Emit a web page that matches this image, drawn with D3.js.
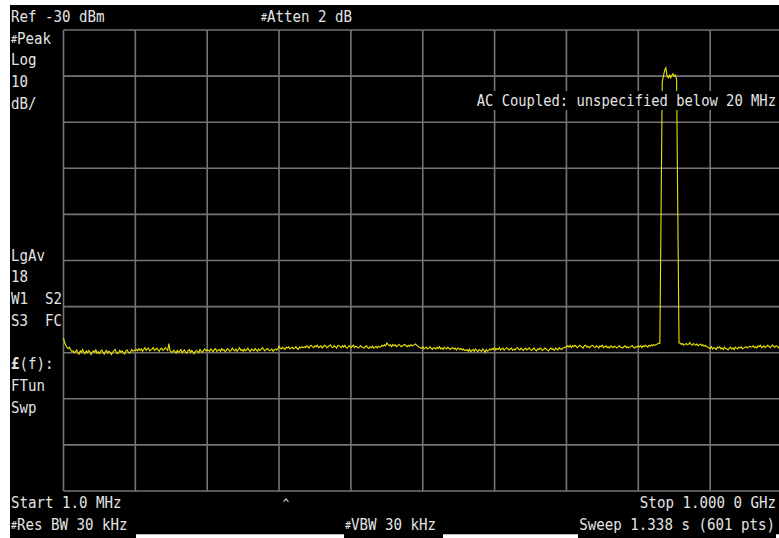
<!DOCTYPE html>
<html>
<head>
<meta charset="utf-8">
<script src="https://cdn.jsdelivr.net/npm/d3@7"></script>
<style>
  body { margin: 0; background: #fff; }
  svg { display: block; }
  text { font-family: "DejaVu Sans Mono", "Liberation Mono", monospace; fill: #e4e4e4; font-size: 15.8px; white-space: pre; }
</style>
</head>
<body>
<div id="container"><svg></svg></div>
<script>
let width = 779
let height = 538
let fontFamily = "DejaVu Sans Mono"

// instrument settings
let refLevel = -30
let dbPerDiv = 10
let nDiv = 10
let startMHz = 1.0
let stopMHz = 1000.0
let nPts = 601

// annotation texts
let topLeft = 'Ref -30 dBm'
let topMid = '#Atten 2 dB'
let sideLabels = ['#Peak', 'Log', '10', 'dB/', 'LgAv', '18', 'W1  S2', 'S3  FC', '£(f):', 'FTun', 'Swp']
let sideRows = [1, 2, 3, 4, 11, 12, 13, 14, 16, 17, 18]
let noteText = 'AC Coupled: unspecified below 20 MHz'
let startText = 'Start 1.0 MHz'
let stopText = 'Stop 1.000 0 GHz'
let rbwText = '#Res BW 30 kHz'
let vbwText = '#VBW 30 kHz'
let sweepText = 'Sweep 1.338 s (601 pts)'

// trace, dBm, 601 points
let trace = [
  -96.8, -97.9, -98.4, -98.9, -99.1, -98.8, -99.4, -99.7, -99.6, -100.0,
  -99.8, -99.4, -100.1, -100.3, -99.6, -99.9, -99.3, -100.0, -100.2, -99.6,
  -100.0, -99.5, -99.8, -100.4, -99.9, -99.6, -99.9, -99.4, -100.1, -99.8,
  -100.2, -99.7, -99.4, -100.0, -100.3, -99.8, -99.5, -100.1, -99.7, -99.9,
  -100.4, -99.9, -99.6, -99.3, -99.8, -100.2, -100.0, -99.5, -99.9, -99.6,
  -100.0, -100.3, -99.7, -99.4, -99.8, -100.1, -99.8, -99.3, -99.7, -99.5,
  -99.4,
  -99.3, -99.6, -99.1, -99.5, -99.2, -99.7, -99.3, -98.9, -99.5, -99.2,
  -99.0, -99.6, -99.4, -99.2, -98.9, -99.5, -99.3, -99.0, -99.4, -99.7,
  -99.2, -99.0, -99.5, -99.3, -98.9, -99.2, -99.5, -98.0, -99.6, -99.8,
  -99.9, -99.5, -99.7, -100.1, -99.5, -99.9, -99.6, -99.3, -100.0, -99.7,
  -99.4, -99.9, -100.1, -99.6, -99.3, -99.9, -99.5, -99.8, -100.2, -99.8,
  -99.5, -99.7, -100.0, -99.3, -99.7, -99.9, -99.5, -99.2, -99.6, -99.4,
  -99.5, -99.7, -99.2, -99.5, -99.8, -99.3, -99.1, -99.7, -99.5, -99.3,
  -99.7, -99.1, -99.5, -99.3, -99.8, -99.5, -99.1, -99.4, -99.7, -99.5,
  -99.0, -99.4, -99.6, -99.2, -99.7, -99.3, -98.9, -99.5, -99.3, -99.7,
  -99.2, -99.6, -99.4, -99.0, -99.5, -99.7, -99.2, -99.4, -99.6, -99.1,
  -99.4, -99.7, -99.2, -99.5, -99.3, -98.9, -99.2, -99.6, -99.4, -99.1,
  -99.3, -99.6, -99.4, -99.2, -99.7, -99.4, -99.2, -99.4,
  -99.2, -98.6,
  -99.0, -99.2, -98.8, -99.1, -99.3, -98.8, -99.0, -98.7, -99.2, -99.0,
  -98.8, -99.2, -99.0, -98.7, -99.1, -99.3, -98.8, -99.0, -98.7, -98.9,
  -98.7, -98.9, -98.5, -98.7, -99.0, -98.5, -98.4, -98.8, -98.9, -98.5,
  -98.7, -98.4, -98.9, -98.7, -98.5, -99.0, -98.7, -98.4, -98.6, -98.9,
  -98.7, -98.5, -98.3, -98.8, -98.9, -98.5, -98.7, -99.0, -98.5, -98.4,
  -98.7, -98.9, -98.5, -98.8, -98.4, -98.9, -99.0, -98.7, -98.5, -98.9,
  -98.7, -98.4, -98.9, -98.6, -98.7, -99.0, -98.8, -98.5, -98.7, -98.9,
  -99.0, -98.7, -98.5, -98.9, -99.1, -98.7, -98.9, -98.6, -99.0, -98.8,
  -98.6, -99.0, -98.6, -98.8, -98.7, -98.4,
  -98.6, -98.3, -98.5, -97.9,
  -98.2, -98.5, -98.3, -98.7, -98.2, -98.5, -98.3, -98.7, -98.5, -98.2,
  -98.4, -98.7, -98.5, -98.3, -98.2, -98.5, -98.7, -98.4, -98.6, -98.3,
  -98.5, -98.4, -98.3, -98.1, -98.4, -98.6, -98.8,
  -98.9, -99.1, -98.7, -99.2, -99.0, -98.8, -99.2, -99.0, -98.7, -99.1,
  -99.3, -98.9, -99.0, -99.2, -98.8, -99.1, -98.7, -99.2, -99.0, -99.3,
  -98.8, -99.0, -99.2, -98.8, -99.1, -99.3, -99.0, -98.9, -99.2, -99.0,
  -99.4, -99.1, -99.0, -99.3, -99.1, -99.4, -99.2, -99.5,
  -99.5, -99.3, -99.7, -99.2, -99.8, -99.5, -99.3, -99.7, -99.2, -99.5,
  -99.8, -99.3, -99.5, -99.7, -99.2, -99.5, -99.9, -99.3, -99.7, -99.5,
  -99.2, -99.4,
  -99.1, -99.3, -98.9, -99.4, -99.1, -99.3, -98.9, -99.4, -99.2, -99.0,
  -99.5, -99.2, -98.9, -99.1, -99.4, -99.2, -99.0, -99.5, -99.2, -99.4,
  -99.0, -98.9, -99.2, -99.4, -99.0, -99.3, -99.5, -99.2, -99.0, -99.4,
  -99.2, -98.9, -99.4, -99.5, -99.2, -99.0, -99.4, -99.6, -99.2, -99.3,
  -99.0, -99.2, -99.5, -99.3, -99.0, -99.2, -99.4, -99.6, -99.2, -99.0,
  -99.3, -99.2, -99.5, -99.0, -99.2, -99.4, -98.9, -99.2, -99.3, -99.0,
  -98.9, -98.8, -98.7,
  -98.5, -98.8, -98.4, -98.9, -98.5, -98.7, -98.4, -98.6, -98.9, -98.7,
  -98.4, -98.6, -98.8, -99.0, -98.5, -98.4, -98.8, -98.6, -98.9, -98.7,
  -98.5, -98.4, -98.8, -98.9, -98.5, -98.7, -99.0, -98.5, -98.7, -98.4,
  -98.9, -98.7, -98.5, -98.9, -98.7, -99.0, -98.5, -98.7, -98.9, -98.6,
  -98.7, -99.0, -98.8, -98.5, -98.7, -98.9, -99.0, -98.7, -98.5, -98.9,
  -98.7, -99.0, -98.8, -98.6, -98.5, -98.9, -99.0, -98.7, -98.8, -98.5,
  -98.7, -98.5, -98.9, -98.5, -98.7, -98.4, -98.6, -98.8, -98.4, -98.6,
  -98.3, -98.5, -98.2, -98.4, -98.2, -98.1, -97.9,
  // carrier
  -98.0, -69.9, -41.3, -40.0, -38.7, -38.2, -40.0, -40.4, -39.8, -40.4,
  -39.8, -39.5, -40.0, -39.8, -40.8, -69.9, -97.9,
  -97.9, -98.2, -98.0, -98.4, -98.2, -98.0, -98.3, -98.2, -97.8, -98.2,
  -98.4, -98.0, -98.2, -98.4, -98.1, -98.5, -98.3, -98.1, -98.5, -98.3,
  -98.6, -98.4, -98.7,
  -98.8, -99.0, -99.1, -98.7, -99.2, -98.9, -99.0, -99.3, -98.8, -99.0,
  -98.7, -99.2, -99.0, -99.3, -98.8, -99.1, -99.2, -99.4, -99.0, -98.8,
  -99.2, -99.0, -99.3, -98.8, -99.0, -99.2, -98.8, -99.0, -98.7, -99.2,
  -99.0, -98.8, -98.7, -99.0, -98.8, -98.6, -98.8,
  -98.7, -98.5, -98.9, -98.7, -99.0, -98.5, -98.7, -98.4, -98.9, -98.7,
  -98.5, -98.9, -98.7, -98.4, -98.6, -98.9, -98.7, -98.3, -98.6, -98.8,
  -98.5, -98.6, -98.9, -98.7, -98.6, -98.7
]

function freq(i) {
    return startMHz + i * (stopMHz - startMHz) / (nPts - 1)
}

// the text of the instrument is tall and narrow
function label(g, x, y, str, anchor, sx) {
    sx = sx || 0.895
    let t = g.append('text')
        .attr('transform', `translate(${x}, ${y}) scale(${sx}, 1)`)
        .attr('text-anchor', anchor || 'start')
        .attr('xml:space', 'preserve')
    if (str[0] === '#') {
        t.append('tspan').attr('font-size', '0.7em').attr('dy', -1).text('#')
        t.append('tspan').attr('dy', 1).text(str.slice(1))
    } else if (str[0] === '£') {
        t.append('tspan').attr('font-weight', 'bold').text('£')
        t.append('tspan').text(str.slice(1))
    } else {
        t.text(str)
    }
    return t
}

function draw_main() {
    let plot = { 'left': 63.5, 'right': 782, 'top': 30, 'bottom': 491 }
    let svg = d3.select('#container')
        .select('svg')
        .attr('width', width)
        .attr('height', height)

    // screen
    svg.append('rect').attr('x', 0).attr('y', 0).attr('width', width).attr('height', height).attr('fill', '#fff')
    svg.append('rect').attr('x', 10).attr('y', 5).attr('width', width - 10).attr('height', height - 5).attr('fill', '#000')

    let x = d3.scaleLinear()
        .domain([startMHz, stopMHz])
        .range([plot.left, plot.right])
    let y = d3.scaleLinear()
        .domain([refLevel - dbPerDiv * nDiv, refLevel])
        .range([plot.bottom, plot.top])

    // graticule
    let grid = svg.append('g')
        .attr('stroke', '#747474')
        .attr('stroke-width', 1.6)
    grid.selectAll('line.v')
        .data(d3.range(nDiv + 1))
        .enter().append('line')
        .attr('class', 'v')
        .attr('x1', d => x(startMHz + d * (stopMHz - startMHz) / nDiv))
        .attr('x2', d => x(startMHz + d * (stopMHz - startMHz) / nDiv))
        .attr('y1', plot.top)
        .attr('y2', plot.bottom)
    grid.selectAll('line.h')
        .data(d3.range(refLevel - dbPerDiv * nDiv, refLevel + 1, dbPerDiv))
        .enter().append('line')
        .attr('class', 'h')
        .attr('x1', plot.left)
        .attr('x2', plot.right)
        .attr('y1', d => y(d))
        .attr('y2', d => y(d))

    // trace
    let line = d3.line()
        .x((d, i) => x(freq(i)))
        .y(d => y(d))
    svg.append('path')
        .datum(trace)
        .attr('d', line)
        .attr('fill', 'none')
        .attr('stroke', '#e8e400')
        .attr('stroke-width', 1.1)
        .attr('stroke-linejoin', 'miter')

    // texts
    let txt = svg.append('g')
    label(txt, 11, 22, topLeft)
    label(txt, 261, 22, topMid)
    sideLabels.forEach((s, i) => {
        label(txt, 11, 22 + 21.7 * sideRows[i], s)
    })

    // note with black box behind it
    let noteScale = 0.875
    let note = label(txt, 776, 105.5, noteText, 'end', noteScale)
    let bb = note.node().getBBox()
    txt.insert('rect', 'text')
        .attr('x', 776 - bb.width * noteScale - 3)
        .attr('y', 91)
        .attr('width', bb.width * noteScale + 6)
        .attr('height', 19)
        .attr('fill', '#000')

    label(txt, 11, 508, startText)
    label(txt, 776, 508, stopText, 'end')
    label(txt, 286, 508, '^', 'middle').style('font-size', '12px')
    label(txt, 11, 529.5, rbwText)
    label(txt, 345, 529.5, vbwText)
    label(txt, 775, 529.5, sweepText, 'end')

    // underlines between the bottom fields
    let gaps = [[136, 344], [443, 578], [776, 779]]
    gaps.forEach(g => {
        svg.append('rect').attr('x', g[0]).attr('y', 535).attr('width', g[1] - g[0]).attr('height', 3).attr('fill', '#fff')
        svg.append('line').attr('x1', g[0]).attr('x2', g[1]).attr('y1', 534.5).attr('y2', 534.5)
            .attr('stroke', '#b8b8b8').attr('stroke-width', 1)
    })
}

draw_main()
</script>
</body>
</html>
